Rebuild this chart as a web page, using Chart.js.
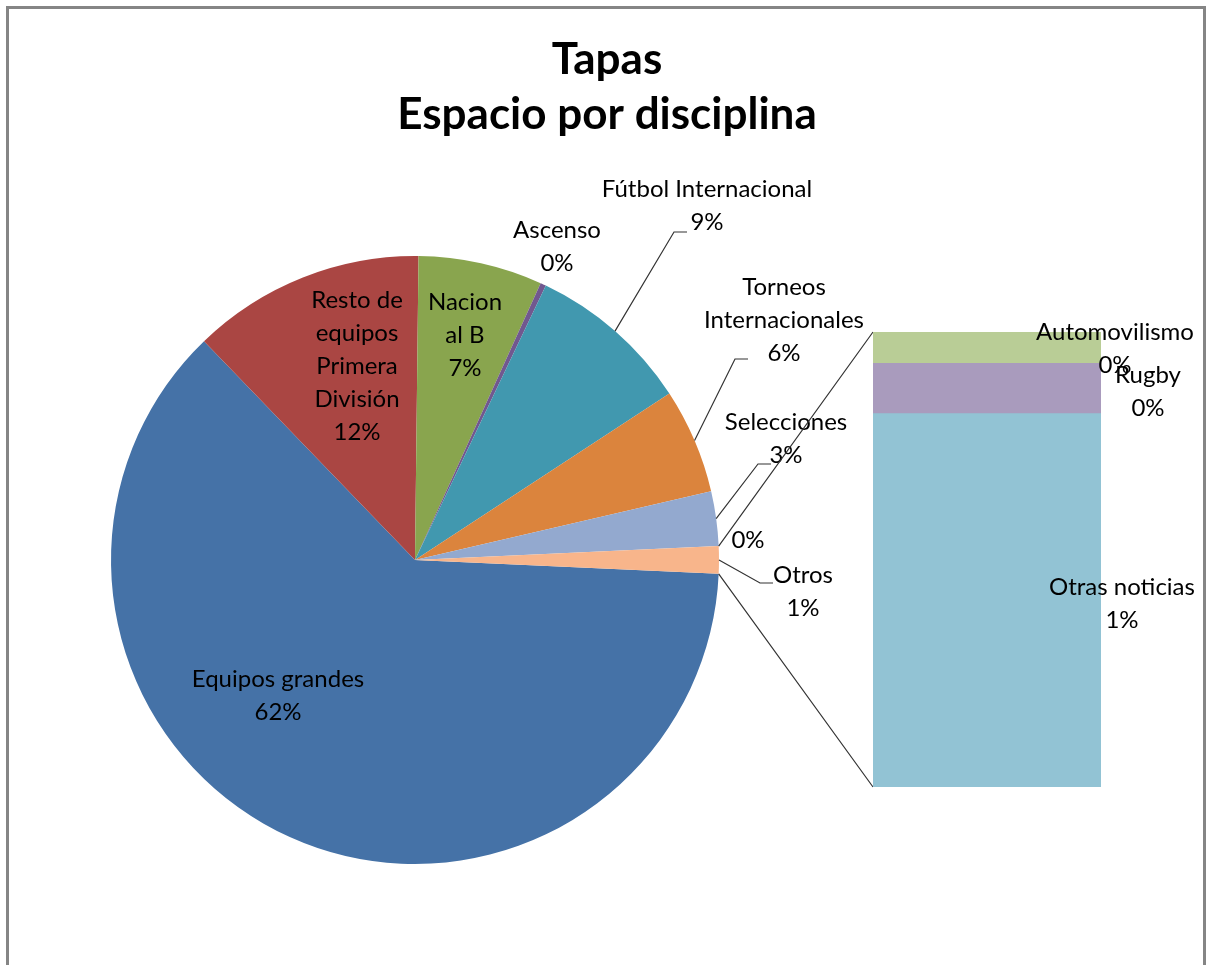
<!DOCTYPE html>
<html>
<head>
<meta charset="utf-8">
<script src="https://cdn.jsdelivr.net/npm/chart.js@4.4.1/dist/chart.umd.min.js"></script>
<style>
  html, body { margin: 0; padding: 0; background: #fff; }
  #wrap { position: relative; width: 1209px; height: 965px; overflow: hidden; }
  #frame { position: absolute; left: 6px; top: 6px; width: 1194px; height: 1000px; border: 3px solid #858585; }
  #pie { position: absolute; left: 0; top: 0; }
  #bar { position: absolute; left: 860px; top: 300px; }
</style>
</head>
<body>
<div id="wrap">
  <div id="frame"></div>
  <canvas id="pie" width="1209" height="965"></canvas>
  <canvas id="bar" width="349" height="500"></canvas>
</div>
<script>
// Datos del gráfico (porcentaje del espacio)
const titulo = ['Tapas', 'Espacio por disciplina'];
const disciplinas = ['Equipos grandes', 'Resto de equipos Primera División', 'Nacional B', 'Ascenso',
  'Fútbol Internacional', 'Torneos Internacionales', 'Selecciones', '', 'Otros'];
const espacio = [62.1, 12.4, 6.6, 0.3, 8.7, 5.6, 2.9, 0, 1.45];
const coloresPie = ['#4572A7', '#AA4643', '#89A54E', '#71588F', '#4198AF', '#DB843D', '#93A9CF', '#D19392', '#F8B58B'];

// Desglose de "Otros" (barra), de abajo hacia arriba
const otrosNombres = ['Otras noticias', 'Rugby', 'Automovilismo'];
const otrosValores = [1.19, 0.16, 0.10];
const coloresBarra = ['#92C3D4', '#A99BBD', '#B9CD96'];

const total = espacio.reduce((a, b) => a + b, 0);
const pct = v => Math.round(v / total * 100) + '%';

const FONT = 'Lato, "Open Sans", sans-serif';
const LINE = 33;

// Posición de las etiquetas (centro del bloque de texto) y codo de la línea guía
const etiquetasPie = [
  { x: 278, y: 696 },
  { x: 357, y: 366, lines: ['Resto de', 'equipos', 'Primera', 'División'] },
  { x: 465, y: 335, lines: ['Nacion', 'al B'] },
  { x: 557, y: 247 },
  { x: 707, y: 206, bend: [674, 232] },
  { x: 784, y: 320, lines: ['Torneos', 'Internacionales'], bend: [735, 359] },
  { x: 786, y: 439, bend: [758, 464] },
  { x: 748, y: 540 },
  { x: 803, y: 592, bend: [760, 583] }
];
const etiquetasBarra = [
  { x: 1122, y: 604 },
  { x: 1148, y: 392 },
  { x: 1115, y: 349 }
];

function drawBlock(ctx, lines, cx, cy) {
  ctx.fillStyle = '#000';
  ctx.textAlign = 'center';
  ctx.textBaseline = 'middle';
  ctx.font = '24px ' + FONT;
  const top = cy - (lines.length - 1) * LINE / 2;
  lines.forEach((t, i) => ctx.fillText(t, cx, top + i * LINE));
}

// Barra apilada con el detalle de "Otros"
const barOffset = { x: 860, y: 300 };
const barChart = new Chart(document.getElementById('bar'), {
  type: 'bar',
  data: {
    labels: ['Otros'],
    datasets: otrosNombres.map((n, i) => ({
      label: n,
      data: [otrosValores[i]],
      backgroundColor: coloresBarra[i],
      borderWidth: 0,
      barPercentage: 1,
      categoryPercentage: 1
    }))
  },
  options: {
    responsive: false,
    animation: false,
    events: [],
    layout: { padding: { left: 13, right: 108, top: 32, bottom: 13 } },
    plugins: { legend: { display: false }, tooltip: { enabled: false } },
    scales: {
      x: { display: false, stacked: true },
      y: { display: false, stacked: true, min: 0, max: otrosValores.reduce((a, b) => a + b, 0) }
    }
  },
  plugins: [{
    id: 'barLabels',
    afterDatasetsDraw(chart) {
      const ctx = chart.ctx;
      ctx.save();
      otrosNombres.forEach((n, i) => {
        const p = etiquetasBarra[i];
        drawBlock(ctx, [n, pct(otrosValores[i])], p.x - barOffset.x, p.y - barOffset.y);
      });
      ctx.restore();
    }
  }]
});

// Torta principal
const pieChart = new Chart(document.getElementById('pie'), {
  type: 'pie',
  data: {
    labels: disciplinas,
    datasets: [{
      data: espacio,
      backgroundColor: coloresPie,
      borderWidth: 0,
      hoverOffset: 0
    }]
  },
  options: {
    responsive: false,
    animation: false,
    events: [],
    rotation: 92.6,
    layout: { padding: { left: 111, right: 490, top: 256, bottom: 101 } },
    plugins: { legend: { display: false }, tooltip: { enabled: false } }
  },
  plugins: [{
    id: 'pieLabels',
    afterDraw(chart) {
      const ctx = chart.ctx;
      ctx.save();
      // título
      ctx.fillStyle = '#000';
      ctx.textAlign = 'center';
      ctx.textBaseline = 'middle';
      ctx.font = 'bold 44px ' + FONT;
      ctx.fillText(titulo[0], 607, 60);
      ctx.fillText(titulo[1], 607, 115);

      const arcs = chart.getDatasetMeta(0).data;
      ctx.strokeStyle = '#333';
      ctx.lineWidth = 1.2;
      arcs.forEach((arc, i) => {
        const lay = etiquetasPie[i];
        const name = disciplinas[i];
        const lines = (lay.lines || (name ? [name] : [])).concat([pct(espacio[i])]);
        if (lay.bend) {
          const mid = (arc.startAngle + arc.endAngle) / 2;
          ctx.beginPath();
          ctx.moveTo(arc.x + arc.outerRadius * Math.cos(mid), arc.y + arc.outerRadius * Math.sin(mid));
          ctx.lineTo(lay.bend[0], lay.bend[1]);
          ctx.lineTo(lay.bend[0] + 13, lay.bend[1]);
          ctx.stroke();
        }
        drawBlock(ctx, lines, lay.x, lay.y);
      });

      // líneas de conexión entre "Otros" y la barra
      const otros = arcs[arcs.length - 1];
      const area = barChart.chartArea;
      const bx = barOffset.x + area.left;
      ctx.beginPath();
      ctx.moveTo(otros.x + otros.outerRadius * Math.cos(otros.startAngle), otros.y + otros.outerRadius * Math.sin(otros.startAngle));
      ctx.lineTo(bx, barOffset.y + area.top);
      ctx.moveTo(otros.x + otros.outerRadius * Math.cos(otros.endAngle), otros.y + otros.outerRadius * Math.sin(otros.endAngle));
      ctx.lineTo(bx, barOffset.y + area.bottom);
      ctx.stroke();
      ctx.restore();
    }
  }]
});
</script>
</body>
</html>
